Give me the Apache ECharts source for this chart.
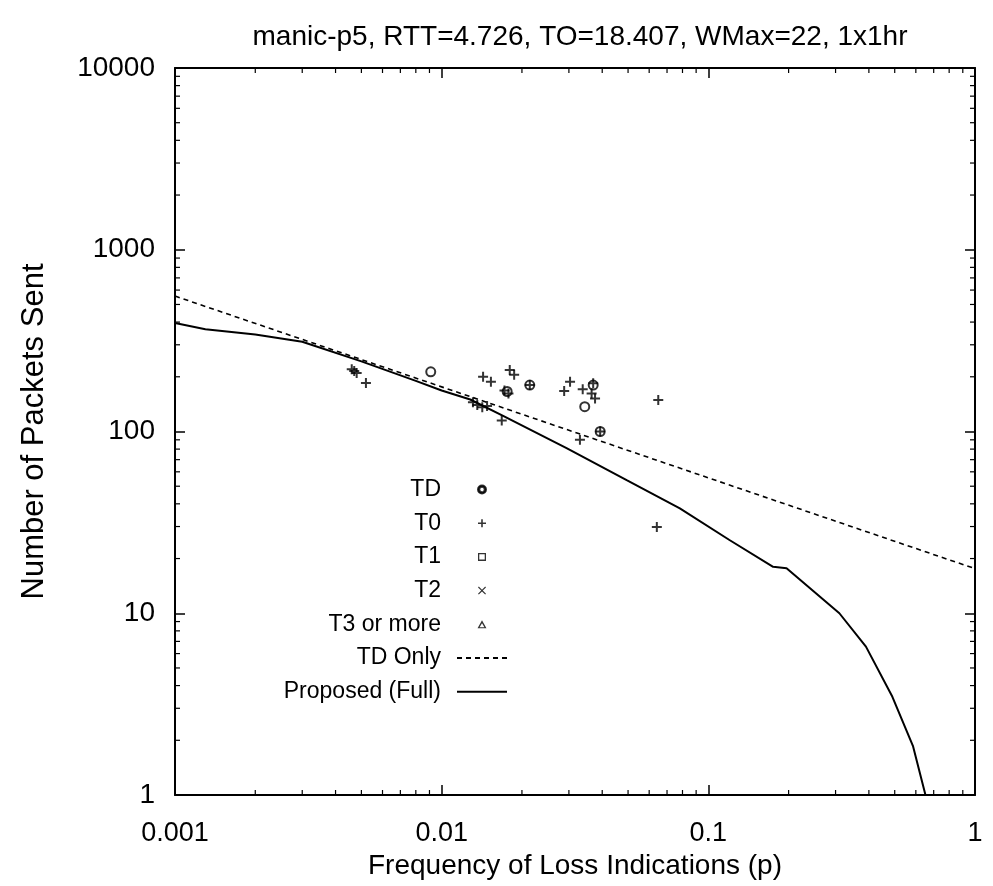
<!DOCTYPE html>
<html>
<head>
<meta charset="utf-8">
<script src="https://cdn.jsdelivr.net/npm/echarts@6/dist/echarts.min.js"></script>
<style>html,body{margin:0;padding:0;background:#fff;}#c{width:993px;height:886px;}</style>
</head>
<body>
<div id="c"></div>
<script>
// ---- data ----
const titleText = 'manic-p5, RTT=4.726, TO=18.407, WMax=22, 1x1hr';
const xTickLabels = ['0.001', '0.01', '0.1', '1'];
const yTickLabels = ['1', '10', '100', '1000', '10000'];
const xMinorTicks = [0.002,0.003,0.004,0.005,0.006,0.007,0.008,0.009,0.02,0.03,0.04,0.05,0.06,0.07,0.08,0.09,0.2,0.3,0.4,0.5,0.6,0.7,0.8,0.9];
const yMinorTicks = [2,3,4,5,6,7,8,9,20,30,40,50,60,70,80,90,200,300,400,500,600,700,800,900,2000,3000,4000,5000,6000,7000,8000,9000];

const tdPoints = [[0.0091,213],[0.0214,180],[0.0344,137],[0.037,180],[0.0393,100],[0.0176,166]];
const t0Points = [[0.0046,220],[0.0048,210],[0.0047,215],[0.0052,185],[0.0131,145],[0.0136,140],[0.0142,136],[0.0148,138],
  [0.0143,200],[0.0153,188],[0.018,218],[0.0187,205],[0.0172,168],[0.0178,162],[0.0214,180],[0.0303,188],[0.0288,167],
  [0.0338,171],[0.037,184],[0.0365,162],[0.0376,152],[0.0649,149],[0.0393,100],[0.033,90],[0.0168,115],[0.0641,29.8]];
const t1Points = [];
const t2Points = [];
const t3Points = [];
const tdOnlyLine = [[0.001,556],[0.01,176],[0.1,55.6],[1,17.6]];
const proposedLine = [[0.001,395],[0.0013,365],[0.002,342],[0.003,312],[0.005,243],[0.008,190],[0.01,168],[0.0128,150],
  [0.017,122],[0.0294,81],[0.0494,54],[0.0782,37.8],[0.12,25.3],[0.175,18],[0.1965,17.7],[0.31,10],[0.39,6.55],
  [0.49,3.47],[0.586,1.85],[0.652,1.0]];

const FONT = 'Liberation Sans';
const plusPath = 'path://M4,0H6V4H10V6H6V10H4V6H0V4H4Z';
const xPath = 'path://M1,0L5,4L9,0L10,1L6,5L10,9L9,10L5,6L1,10L0,9L4,5L0,1Z';
const squarePath = 'path://M0,0H10V10H0Z M1.6,1.6V8.4H8.4V1.6Z';
const trianglePath = 'path://M5,0L10,9L0,9Z M5,3.2L2.3,7.7L7.7,7.7Z';
const circlePath = 'path://M5,0A5,5,0,1,1,4.99,0Z M5,1.6A3.4,3.4,0,1,0,5.01,1.6Z';
const hidden = {color:'rgba(0,0,0,0)', borderColor:'rgba(0,0,0,0)', borderWidth:0};

function xFmt(v){ const i = Math.round(Math.log10(v)) + 3; return xTickLabels[i] !== undefined ? xTickLabels[i] : ''; }
function yFmt(v){ const i = Math.round(Math.log10(v)); return yTickLabels[i] !== undefined ? yTickLabels[i] : ''; }

const axisLine = {show:true, lineStyle:{color:'#000', width:2}};
const baseX = {type:'log', logBase:10, min:0.001, max:1, splitLine:{show:false},
  axisLine: axisLine, axisTick:{show:true, inside:true, length:10, lineStyle:{color:'#000', width:1.5}}};
const baseY = {type:'log', logBase:10, min:1, max:10000, splitLine:{show:false},
  axisLine: axisLine, axisTick:{show:true, inside:true, length:10, lineStyle:{color:'#000', width:1.5}}};

const chart = echarts.init(document.getElementById('c'), null, {renderer:'canvas'});

function minorX(params, api){
  const v = api.value(0);
  const b = api.coord([v, 1]);
  const t = api.coord([v, 10000]);
  return {type:'group', children:[
    {type:'line', shape:{x1:b[0], y1:b[1], x2:b[0], y2:b[1]-5}, style:{stroke:'#000', lineWidth:1.2}},
    {type:'line', shape:{x1:t[0], y1:t[1], x2:t[0], y2:t[1]+5}, style:{stroke:'#000', lineWidth:1.2}}
  ]};
}
function minorY(params, api){
  const v = api.value(1);
  const l = api.coord([0.001, v]);
  const r = api.coord([1, v]);
  return {type:'group', children:[
    {type:'line', shape:{x1:l[0], y1:l[1], x2:l[0]+5, y2:l[1]}, style:{stroke:'#000', lineWidth:1.2}},
    {type:'line', shape:{x1:r[0], y1:r[1], x2:r[0]-5, y2:r[1]}, style:{stroke:'#000', lineWidth:1.2}}
  ]};
}

chart.setOption({
  backgroundColor:'#fff',
  animation:false,
  title:{text:titleText, left:575, top:18, textAlign:'center',
    textStyle:{fontFamily:FONT, fontSize:28, fontWeight:'normal', color:'#000'}},
  grid:{left:175, right:18, top:68, bottom:91, containLabel:false},
  xAxis:[
    Object.assign({}, baseX, {position:'bottom', name:'Frequency of Loss Indications (p)', nameLocation:'middle', nameGap:53,
      nameTextStyle:{fontFamily:FONT, fontSize:28, color:'#000'},
      axisLabel:{show:true, formatter:xFmt, margin:25, color:'#000', fontFamily:FONT, fontSize:27}}),
    Object.assign({}, baseX, {position:'top', axisLabel:{show:false}})
  ],
  yAxis:[
    Object.assign({}, baseY, {position:'left', name:'Number of Packets Sent', nameLocation:'middle', nameGap:125,
      nameTextStyle:{fontFamily:FONT, fontSize:31, color:'#000'},
      axisLabel:{show:true, formatter:yFmt, margin:20, color:'#000', fontFamily:FONT, fontSize:28}}),
    Object.assign({}, baseY, {position:'right', axisLabel:{show:false}})
  ],
  legend:{
    orient:'vertical', align:'right', right:480, top:471, itemWidth:50, itemHeight:8, itemGap:6.7,
    symbolKeepAspect:true,
    textStyle:{fontFamily:FONT, fontSize:23, lineHeight:27, color:'#000', padding:[0,11,0,0]},
    data:[
      {name:'TD', icon:circlePath},
      {name:'T0', icon:plusPath},
      {name:'T1', icon:squarePath},
      {name:'T2', icon:xPath},
      {name:'T3 or more', icon:trianglePath},
      {name:'TD Only', icon:'inherit', itemStyle:hidden},
      {name:'Proposed (Full)', icon:'inherit', itemStyle:hidden}
    ]
  },
  series:[
    {type:'custom', name:'xminor', renderItem:minorX, data:xMinorTicks.map(v=>[v,1]), silent:true, clip:false, z:5},
    {type:'custom', name:'yminor', renderItem:minorY, data:yMinorTicks.map(v=>[0.001,v]), silent:true, clip:false, z:5},
    {type:'line', name:'TD Only', data:tdOnlyLine, symbol:'none', lineStyle:{color:'#000', width:1.6, type:[5,4]}, itemStyle:{color:'#000'}, z:3},
    {type:'line', name:'Proposed (Full)', data:proposedLine, symbol:'none', lineStyle:{color:'#000', width:2}, itemStyle:{color:'#000'}, z:3},
    {type:'scatter', name:'TD', data:tdPoints, symbol:'emptyCircle', symbolSize:9, itemStyle:{color:'#000', borderColor:'#000', borderWidth:1.8}, z:4},
    {type:'scatter', name:'T0', data:t0Points, symbol:plusPath, symbolSize:10, itemStyle:{color:'#000'}, z:4},
    {type:'scatter', name:'T1', data:t1Points, symbol:squarePath, symbolSize:8, itemStyle:{color:'#000'}},
    {type:'scatter', name:'T2', data:t2Points, symbol:xPath, symbolSize:8, itemStyle:{color:'#000'}},
    {type:'scatter', name:'T3 or more', data:t3Points, symbol:trianglePath, symbolSize:8, itemStyle:{color:'#000'}}
  ]
});
</script>
</body>
</html>
